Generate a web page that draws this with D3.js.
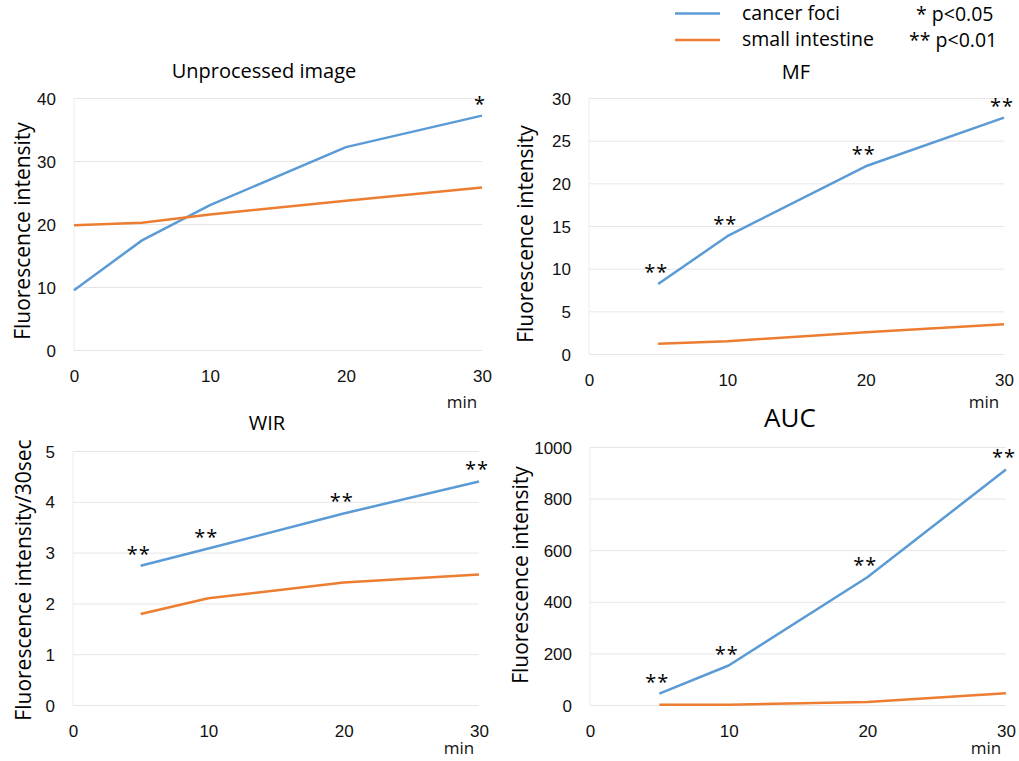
<!DOCTYPE html>
<html>
<head>
<meta charset="utf-8">
<script src="https://cdn.jsdelivr.net/npm/d3@7"></script>
<style>
    body { margin: 0; background: #fff; }
    svg { display: block; font-family: "Open Sans", "Noto Sans", sans-serif; }
    .grid line { stroke: #e6e6e6; stroke-width: 1; }
    .grid .domain { display: none; }
    .tick text { fill: #111; font-size: 17px; }
</style>
</head>
<body>
<div id="chart"></div>
<script>
// time points (min)
const minutesAll = [0, 5, 10, 20, 30];
const minutesLater = [5, 10, 20, 30];
const xTicks = [0, 10, 20, 30];

// Unprocessed image
const unprocessedCancer = [9.5, 17.4, 23.0, 32.2, 37.2];
const unprocessedIntestine = [19.8, 20.2, 21.5, 23.7, 25.8];
const unprocessedSig = ["", "", "", "", "*"];
const unprocessedTicks = [0, 10, 20, 30, 40];

// MF
const mfCancer = [8.2, 13.8, 22.0, 27.7];
const mfIntestine = [1.2, 1.5, 2.55, 3.5];
const mfSig = ["**", "**", "**", "**"];
const mfTicks = [0, 5, 10, 15, 20, 25, 30];

// WIR
const wirCancer = [2.74, 3.08, 3.77, 4.40];
const wirIntestine = [1.79, 2.10, 2.41, 2.57];
const wirSig = ["**", "**", "**", "**"];
const wirTicks = [0, 1, 2, 3, 4, 5];

// AUC
const aucCancer = [44, 153, 495, 913];
const aucIntestine = [0.5, 1, 12, 46];
const aucSig = ["**", "**", "**", "**"];
const aucTicks = [0, 200, 400, 600, 800, 1000];

const seriesNames = ["cancer foci", "small intestine"];
const sigNotes = ["* p<0.05", "** p<0.01"];
const colors = ["#5B9BD5", "#ED7D31"];

const panels = [
    { title: "Unprocessed image", yLabel: "Fluorescence intensity", x: minutesAll, cancer: unprocessedCancer, intestine: unprocessedIntestine, sig: unprocessedSig, ticks: unprocessedTicks,
      box: { left: 74, right: 482, top: 98, bottom: 350 }, titlePos: [264, 71], titleSize: 20, yLabelPos: [22, 231], minY: 405 },
    { title: "MF", yLabel: "Fluorescence intensity", x: minutesLater, cancer: mfCancer, intestine: mfIntestine, sig: mfSig, ticks: mfTicks,
      box: { left: 589, right: 1004, top: 98, bottom: 354 }, titlePos: [796, 72], titleSize: 20, yLabelPos: [525, 234], minY: 405 },
    { title: "WIR", yLabel: "Fluorescence intensity/30sec", x: minutesLater, cancer: wirCancer, intestine: wirIntestine, sig: wirSig, ticks: wirTicks,
      box: { left: 73, right: 479, top: 451, bottom: 705 }, titlePos: [267, 423], titleSize: 20, yLabelPos: [23, 580], minY: 751 },
    { title: "AUC", yLabel: "Fluorescence intensity", x: minutesLater, cancer: aucCancer, intestine: aucIntestine, sig: aucSig, ticks: aucTicks,
      box: { left: 590, right: 1006, top: 447, bottom: 705 }, titlePos: [790, 418], titleSize: 26, yLabelPos: [520, 575], minY: 751 }
];

const svg = d3.select("#chart").append("svg")
    .attr("width", 1019)
    .attr("height", 761);

panels.forEach(p => {
    const b = p.box;
    const w = b.right - b.left;
    const h = b.bottom - b.top;
    const xScale = d3.scaleLinear().domain([0, 30]).range([0, w]);
    const yScale = d3.scaleLinear().domain([0, d3.max(p.ticks)]).range([h, 0]);

    const g = svg.append("g").attr("transform", `translate(${b.left},${b.top})`);

    g.append("g")
        .attr("class", "grid")
        .call(d3.axisLeft(yScale).tickValues(p.ticks).tickSize(-w).tickPadding(18).tickFormat(d3.format("d")))
        .call(s => s.selectAll(".tick text").attr("dy", "0.36em"));

    g.append("line")
        .attr("x1", 0).attr("x2", 0).attr("y1", 0).attr("y2", h)
        .attr("stroke", "#ececec");

    g.append("g")
        .attr("transform", `translate(0,${h})`)
        .call(d3.axisBottom(xScale).tickValues(xTicks).tickSize(0).tickPadding(20))
        .call(s => s.select(".domain").remove());

    const line = d3.line().x(d => xScale(d[0])).y(d => yScale(d[1]));
    [p.cancer, p.intestine].forEach((vals, i) => {
        g.append("path")
            .datum(p.x.map((m, j) => [m, vals[j]]))
            .attr("fill", "none")
            .attr("stroke", colors[i])
            .attr("stroke-width", 2.5)
            .attr("stroke-linejoin", "round")
            .attr("d", line);
    });

    // significance marks above the cancer foci line
    g.selectAll(".sig")
        .data(p.x.map((m, j) => ({ m, v: p.cancer[j], s: p.sig[j] })).filter(d => d.s))
        .enter()
        .append("text")
        .attr("class", "sig")
        .attr("x", d => xScale(d.m) - 2)
        .attr("y", d => yScale(d.v) - 5)
        .attr("text-anchor", "middle")
        .style("font-size", "20px")
        .style("letter-spacing", "1px")
        .text(d => d.s);

    svg.append("text")
        .attr("x", p.titlePos[0])
        .attr("y", p.titlePos[1])
        .attr("dy", "0.36em")
        .attr("text-anchor", "middle")
        .style("font-size", p.titleSize + "px")
        .text(p.title);

    svg.append("text")
        .attr("transform", `translate(${p.yLabelPos[0]},${p.yLabelPos[1]}) rotate(-90)`)
        .attr("dy", "0.36em")
        .attr("text-anchor", "middle")
        .style("font-size", "21px")
        .text(p.yLabel);

    svg.append("text")
        .attr("x", b.right - 20)
        .attr("y", p.minY)
        .attr("dy", "0.2em")
        .attr("text-anchor", "middle")
        .style("font-size", "17px")
        .attr("fill", "#111")
        .text("min");
});

// legend
const legend = svg.append("g");
seriesNames.forEach((name, i) => {
    const y = 13.5 + i * 26.5;
    legend.append("line")
        .attr("x1", 675).attr("x2", 720)
        .attr("y1", y).attr("y2", y)
        .attr("stroke", colors[i])
        .attr("stroke-width", 2.5);
    legend.append("text")
        .attr("x", 742).attr("y", y)
        .attr("dy", "0.32em")
        .style("font-size", "19.5px")
        .text(name);
    legend.append("text")
        .attr("x", i === 0 ? 916 : 909).attr("y", y + 1)
        .attr("dy", "0.32em")
        .style("font-size", "19.5px")
        .text(sigNotes[i]);
});
</script>
</body>
</html>
